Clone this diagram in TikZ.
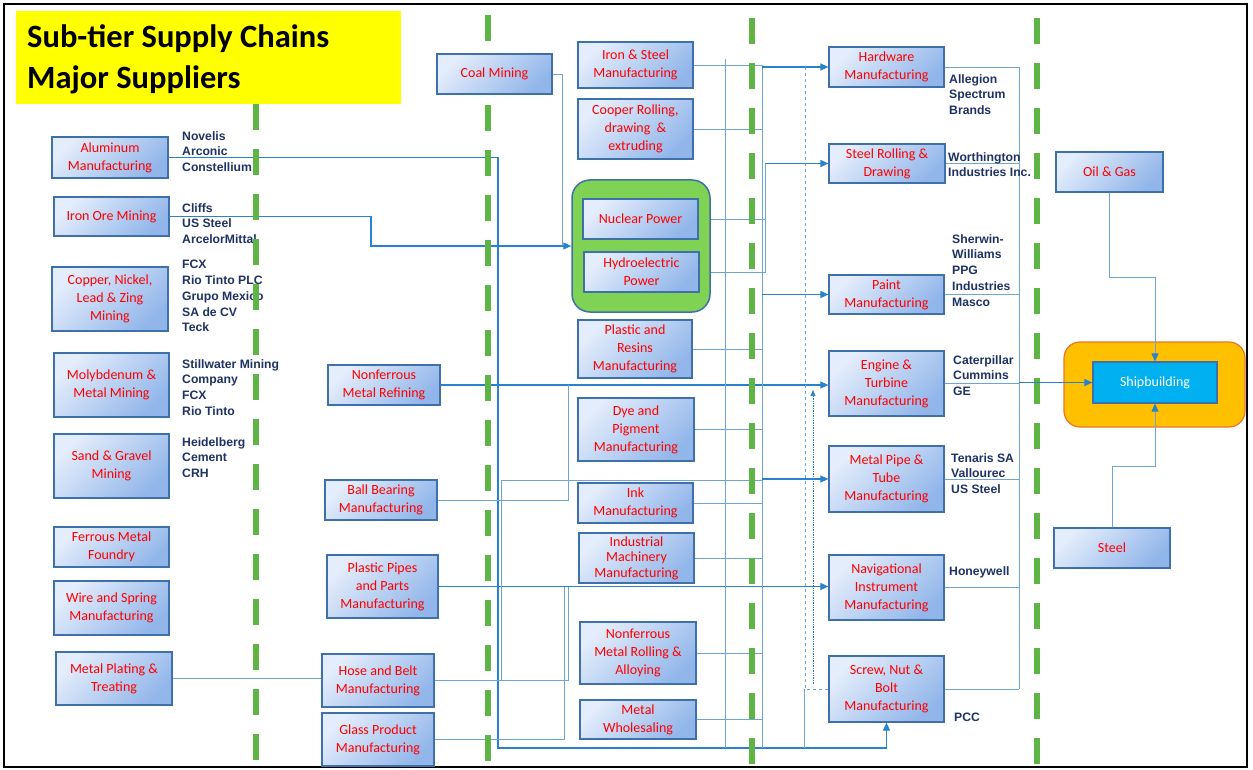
\documentclass[tikz,border=0pt]{standalone}
\usepackage{fontspec}
\setmainfont{Carlito}
\newfontfamily\coname{Liberation Sans}
\usetikzlibrary{arrows.meta,calc}
\definecolor{boxlt}{RGB}{228,237,251}
\definecolor{boxdk}{RGB}{146,182,234}
\definecolor{boxbd}{RGB}{62,112,170}
\definecolor{txtred}{RGB}{255,0,0}
\definecolor{navy}{RGB}{30,50,100}
\definecolor{conn}{RGB}{110,165,215}
\definecolor{arrc}{RGB}{40,130,205}
\definecolor{dgreen}{RGB}{95,180,70}
\definecolor{gfill}{RGB}{128,210,85}
\definecolor{ofill}{RGB}{255,192,0}
\definecolor{obord}{RGB}{230,120,40}
\definecolor{cyanb}{RGB}{0,176,240}
\definecolor{ttl}{RGB}{255,255,0}
\pgfdeclarelayer{l0}
\pgfdeclarelayer{l1}
\pgfdeclarelayer{l2}
\pgfdeclarelayer{l3}
\pgfdeclarelayer{top}
\pgfsetlayers{l0,l1,l2,l3,main,top}
\tikzset{
  boxst/.style={draw=boxbd, line width=1.2pt, top color=boxlt, bottom color=boxdk, shading angle=45,
    text=txtred, font=\fontsize{14}{18}\selectfont, align=center, inner sep=1pt},
  co/.style={anchor=north west, inner sep=0pt, align=left, text=navy,
    font=\coname\bfseries\fontsize{12.2}{15.8}\selectfont},
  cn/.style={draw=conn, line width=0.9pt},
  ar/.style={draw=arrc, line width=1.1pt, -{Triangle[length=8pt,width=7pt]}},
  arl/.style={draw=conn, line width=0.9pt, -{Triangle[length=8pt,width=7pt,color=arrc]}},
  gdash/.style={draw=dgreen, line width=6.5pt, dash pattern=on 26pt off 19pt}
}
\newcommand\bxx[6]{\node[boxst, minimum width={(#4-#2)*1pt}, minimum height={(#5-#3)*1pt}] (#1) at ({(#2+#4)/2},{(#3+#5)/2}) {#6};}
\begin{document}
\begin{tikzpicture}[x=1pt,y=-1pt]
\useasboundingbox (0,0) rectangle (1253,770);
\begin{pgfonlayer}{l0}
\fill[white] (0,0) rectangle (1253,770);
\draw[black, line width=1.6pt] (4,4) rectangle (1247,767);
\fill[ttl] (16,11) rectangle (401,104);
\end{pgfonlayer}
\node[anchor=north west, inner sep=0pt, align=left, font=\bfseries\fontsize{32.5}{41}\selectfont] (title) at (27,24) {Sub-tier Supply Chains\\Major Suppliers};
% bus coordinates
\coordinate (b1) at (762,0);
\coordinate (b2) at (765,0);
\coordinate (b4) at (1019,0);

% ---------- boxes ----------
% column 1
\bxx{al}{52}{137}{168}{178}{Aluminum\\Manufacturing}
\bxx{io}{54}{197}{169}{236}{Iron Ore Mining}
\bxx{cu}{52}{267}{168}{331}{Copper, Nickel,\\Lead \& Zing\\Mining}
\bxx{mo}{54}{353}{169}{417}{Molybdenum \&\\Metal Mining}
\bxx{sg}{54}{434}{169}{498}{Sand \& Gravel\\Mining}
\bxx{fm}{54}{527}{169}{567}{Ferrous Metal\\Foundry}
\bxx{ws}{54}{581}{169}{635}{Wire and Spring\\Manufacturing}
\bxx{mp}{56}{652}{172}{705}{Metal Plating \&\\Treating}
% column 2
\bxx{coal}{437}{54}{552}{94}{Coal Mining}
\bxx{nfr}{328}{365}{440}{405}{Nonferrous\\Metal Refining}
\bxx{bb}{325}{480}{437}{520}{Ball Bearing\\Manufacturing}
\bxx{pp}{327}{555}{438}{618}{Plastic Pipes\\and Parts\\Manufacturing}
\bxx{hose}{322}{654}{434}{707}{Hose and Belt\\Manufacturing}
\bxx{glass}{322}{713}{434}{766}{Glass Product\\Manufacturing}
% column 3
\bxx{is}{578}{42}{693}{88}{Iron \& Steel\\Manufacturing}
\bxx{cr}{578}{99}{693}{159}{Cooper Rolling,\\drawing~~\&\\extruding}
\node[draw=boxbd, line width=1.5pt, fill=gfill, rounded corners=18pt, minimum width=138pt, minimum height=132pt] (gb) at (641,246) {};
\bxx{np}{583}{199}{698}{239}{Nuclear Power}
\bxx{hp}{584}{252}{699}{292}{Hydroelectric\\Power}
\bxx{prm}{578}{320}{692}{378}{Plastic and\\Resins\\Manufacturing}
\bxx{dye}{578}{398}{694}{461}{Dye and\\Pigment\\Manufacturing}
\bxx{ink}{578}{483}{693}{523}{Ink\\Manufacturing}
\node[boxst, minimum width=115pt, minimum height=50pt, font=\fontsize{14}{15.5}\selectfont, inner sep=0pt] (im) at (636.5,558) {Industrial\\Machinery\\Manufacturing};
\bxx{nmr}{580}{622}{696}{684}{Nonferrous\\Metal Rolling \&\\Alloying}
\bxx{mw}{580}{700}{696}{739}{Metal\\Wholesaling}
% column 4
\bxx{hw}{829}{47}{944}{87}{Hardware\\Manufacturing}
\bxx{sr}{829}{144}{945}{183}{Steel Rolling \&\\Drawing}
\bxx{paint}{829}{275}{944}{314}{Paint\\Manufacturing}
\bxx{eng}{829}{351}{944}{416}{Engine \&\\Turbine\\Manufacturing}
\bxx{pipe}{829}{446}{944}{512}{Metal Pipe \&\\Tube\\Manufacturing}
\bxx{nav}{829}{555}{944}{620}{Navigational\\Instrument\\Manufacturing}
\bxx{screw}{829}{656}{944}{722}{Screw, Nut \&\\Bolt\\Manufacturing}
% right
\bxx{oil}{1056}{152}{1163}{192}{Oil \& Gas}
\bxx{steel}{1054}{528}{1170}{568}{Steel}
\node[draw=obord, line width=1.2pt, fill=ofill, rounded corners=16pt, minimum width=181pt, minimum height=85pt] (ob) at (1154.5,384.5) {};
\node[draw=boxbd, line width=1.2pt, fill=cyanb, minimum width=124pt, minimum height=41pt, text=white, font=\fontsize{14}{18}\selectfont] (ship) at (1155,382.5) {Shipbuilding};

% ---------- company names ----------
\begin{pgfonlayer}{l2}
\node[co] (c1) at (182,131) {Novelis\\Arconic\\Constellium};
\node[co] (c2) at (182,203) {Cliffs\\US Steel\\ArcelorMittal};
\node[co] (c3) at (182,260) {FCX\\Rio Tinto PLC\\Grupo Mexico\\SA de CV\\Teck};
\node[co] (c4) at (182,359) {Stillwater Mining\\Company\\FCX\\Rio Tinto};
\node[co] (c5) at (182,437) {Heidelberg\\Cement\\CRH};
\node[co] (c6) at (949,74) {Allegion\\Spectrum\\Brands};
\node[co] (c7) at (948,152) {Worthington\\Industries Inc.};
\node[co] (c8) at (952,234) {Sherwin-\\Williams\\PPG\\Industries\\Masco};
\node[co] (c9) at (953,355) {Caterpillar\\Cummins\\GE};
\node[co] (c10) at (951,453) {Tenaris SA\\Vallourec\\US Steel};
\node[co] (c11) at (949,566) {Honeywell};
\node[co] (c12) at (954,713) {PCC};
\end{pgfonlayer}

% ---------- green dashed tier lines ----------
\begin{pgfonlayer}{l3}
\draw[gdash] (256,104) -- (256,768);
\draw[gdash] (488,15) -- (488,768);
\draw[gdash] (752,18) -- (752,768);
\draw[gdash] (1037,18) -- (1037,768);
\end{pgfonlayer}

% ---------- connectors ----------
\begin{pgfonlayer}{l1}
% column 1 -> 2/3
\draw[ar] (io.east) -| (371,246) -- (gb.west);
\draw[cn] (coal.east) -| (562,246);
\draw[cn] (mp.east) -- (mp.east -| hose.west);
\draw[ar] (al.east) -| (498,748) -| (screw.south);
% column 2
\draw[ar] (nfr.east) -- (nfr.east -| eng.west);
\draw[cn] (bb.east) -| (568,385);
\draw[ar] (pp.east) -- (pp.east -| nav.west);
\draw[cn] (hose.east) -| (568,587);
\draw[cn] (hose.east) -| (501,480) -- (b1 |- 0,480);
\draw[cn] (glass.east) -| (564,587);
% column 3 buses
\draw[cn] (725,59) -- (725,748);
\draw[cn] (is.east -| b1) -- (b1 |- 0,748);
\draw[cn] (is.east) -- (is.east -| b1);
\draw[cn] (cr.east) -- (cr.east -| b1);
\draw[cn] (prm.east) -- (prm.east -| b1);
\draw[cn] (dye.east) -- (dye.east -| b1);
\draw[cn] (ink.east) -- (ink.east -| b1);
\draw[cn] (im.east) -- (im.east -| b1);
\draw[cn] (nmr.east) -- (nmr.east -| b1);
\draw[cn] (mw.east) -- (mw.east -| b1);
\draw[cn] (np.east) -| (sr.west -| b2);
\draw[cn] (hp.east) -| (np.east -| b2);
\draw[ar] (sr.west -| b2) -- (sr.west);
\draw[ar] (hw.west -| b1) -- (hw.west);
\draw[ar] (paint.west -| b1) -- (paint.west);
\draw[ar] (pipe.west -| b1) -- (pipe.west);
% dashed / dotted feeds to screw
\draw[conn, dashed, line width=0.7pt] (805,67) -- (805,689) -- (screw.west);
\draw[arrc, densely dotted, line width=0.7pt, -{Triangle[length=6pt,width=5pt]}] (813,684) -- (813,390);
\draw[conn, line width=0.7pt] (804,689) -- (804,748);
% column 4 -> bus
\draw[cn] (hw.east) -- (hw.east -| b4);
\draw[cn] (sr.east) -- (sr.east -| b4);
\draw[cn] (paint.east) -- (paint.east -| b4);
\draw[cn] (eng.east) -- (eng.east -| b4);
\draw[cn] (pipe.east) -- (pipe.east -| b4);
\draw[cn] (nav.east) -- (nav.east -| b4);
\draw[cn] (screw.east) -- (screw.east -| b4);
\draw[cn] (hw.east -| b4) -- (screw.east -| b4);
\end{pgfonlayer}
% ---------- feeds into shipbuilding (over the orange frame) ----------
\begin{pgfonlayer}{top}
\draw[ar] (ship.west -| b4) -- (ship.west);
\draw[arl] (oil.south) -- (oil.south |- 0,277) -| (ship.north);
\draw[arl] (steel.north) -- (steel.north |- 0,466) -| (ship.south);
\end{pgfonlayer}
\end{tikzpicture}
\end{document}
